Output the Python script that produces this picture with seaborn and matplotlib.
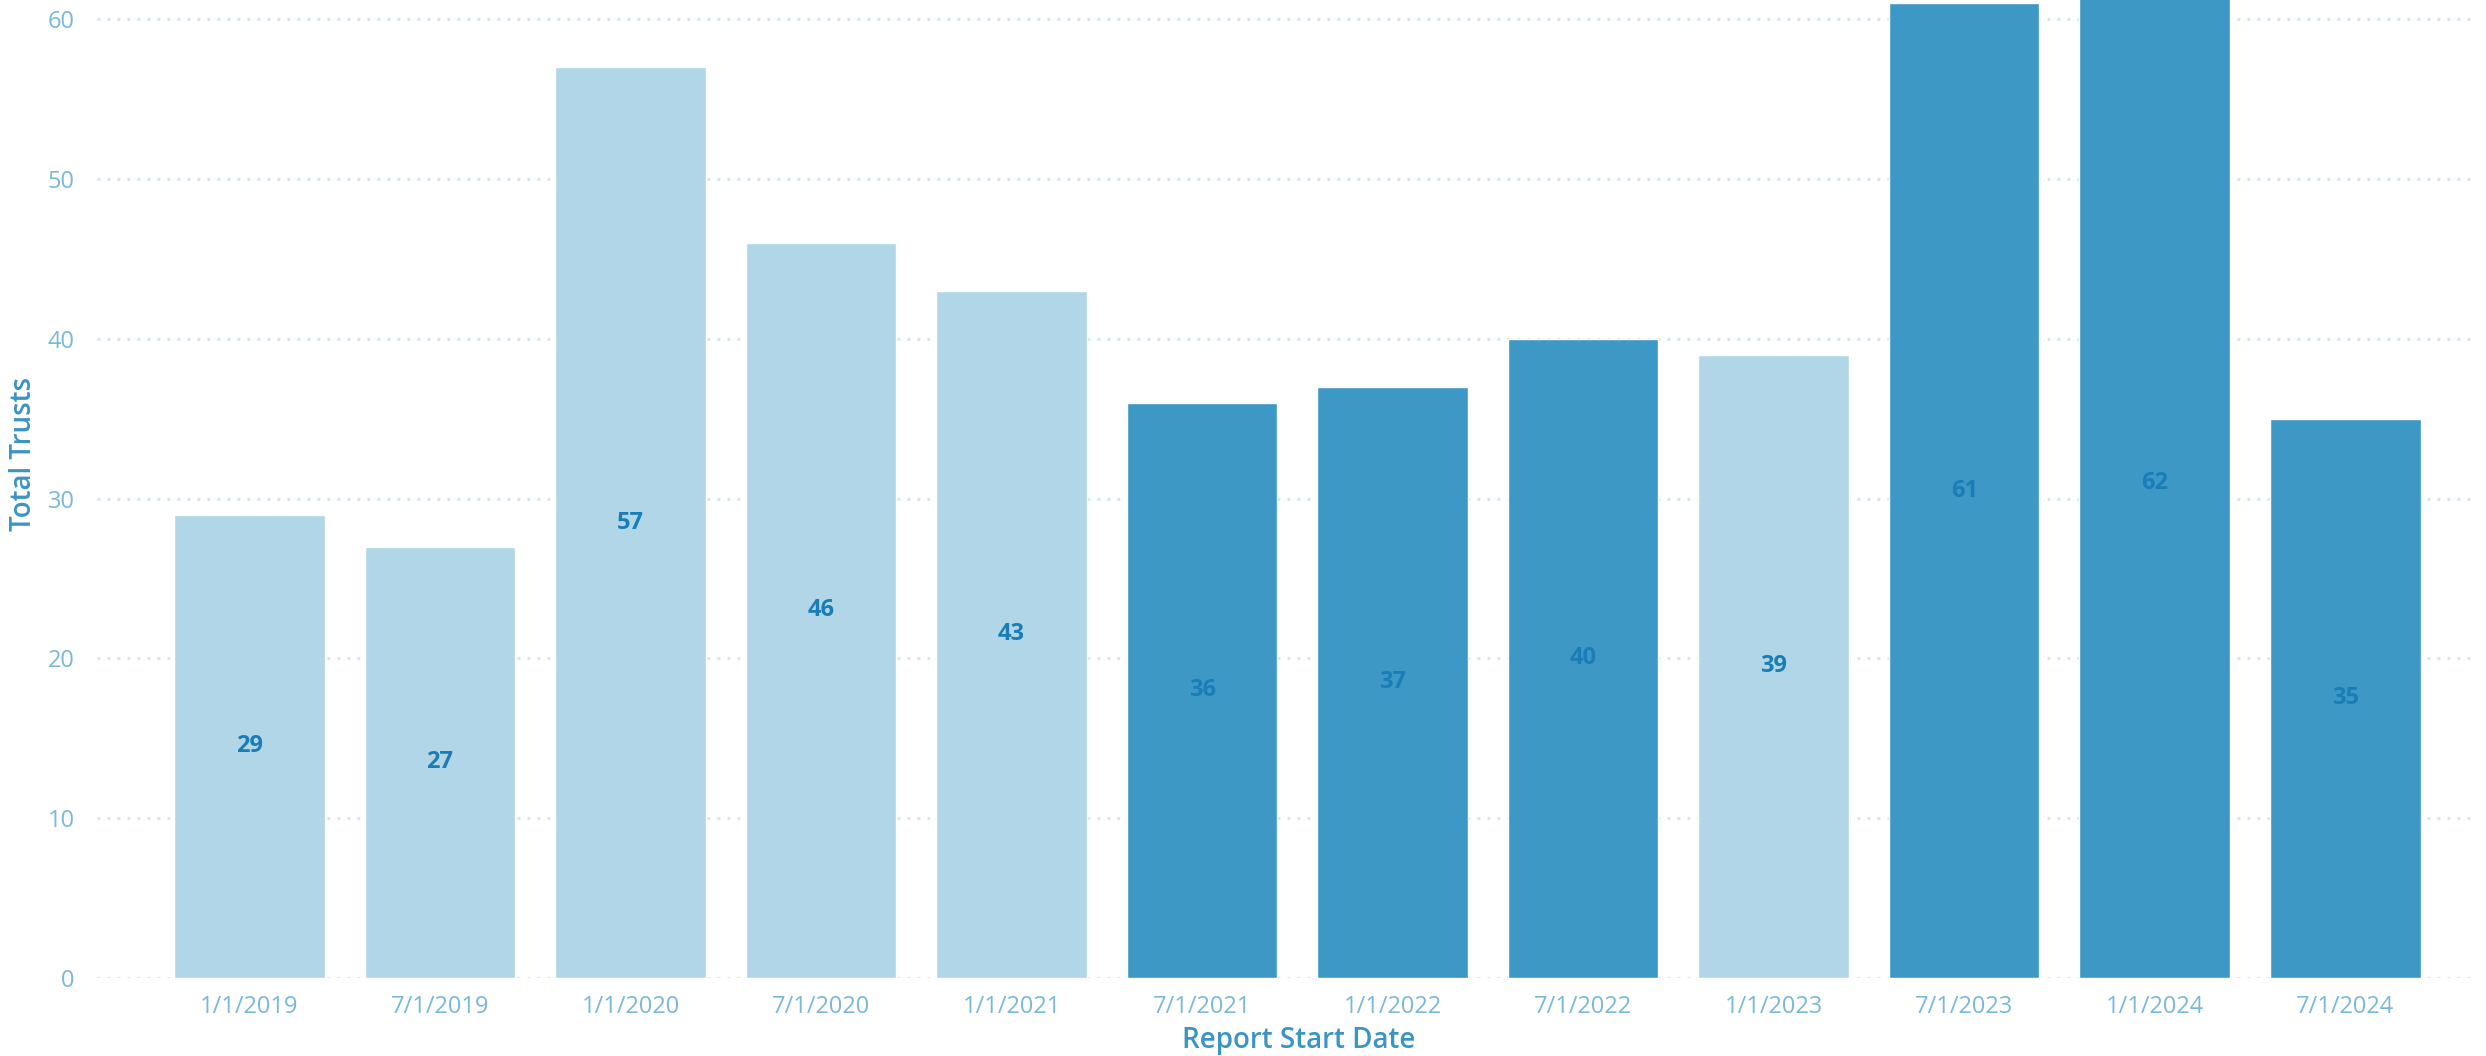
import matplotlib
matplotlib.use("Agg")
import matplotlib.pyplot as plt
import seaborn as sns
import pandas as pd

categories = ["1/1/2019", "7/1/2019", "1/1/2020", "7/1/2020", "1/1/2021", "7/1/2021",
              "1/1/2022", "7/1/2022", "1/1/2023", "7/1/2023", "1/1/2024", "7/1/2024"]
values = [29, 27, 57, 46, 43, 36, 37, 40, 39, 61, 62, 35]
highlight = [False, False, False, False, False, True, True, True, False, True, True, True]

LIGHT = "#B1D6E8"
DARK = "#3E98C6"
colors = [DARK if h else LIGHT for h in highlight]

sns.set_theme(style="white")
plt.rcParams['font.family'] = ['Open Sans', 'DejaVu Sans']

df = pd.DataFrame({"date": categories, "total": values})

fig = plt.figure(figsize=(24.86, 10.56), dpi=100)
ax = fig.add_axes([97 / 2486, 1 - 978 / 1056, (2471 - 97) / 2486, 978 / 1056])

sns.barplot(data=df, x="date", y="total", hue="date", palette=colors, legend=False,
            width=0.79, saturation=1, ax=ax, zorder=3)

for p, v in zip(ax.patches, values):
    ax.text(p.get_x() + p.get_width() / 2, v / 2, str(v), ha="center", va="center",
            fontsize=17, fontweight="bold", color="#1A7DB5", zorder=4)

ax.set_ylim(0, 61.2)
ax.set_xlim(-0.8, 11.66)
ax.set_yticks([0, 10, 20, 30, 40, 50, 60])
ax.grid(axis="y", linestyle=(0, (1, 2.6)), color="#CFE4EF", linewidth=2, zorder=0)
ax.grid(axis="x", visible=False)
for s in ax.spines.values():
    s.set_visible(False)

ax.tick_params(axis="both", length=0, labelsize=17, labelcolor="#7AB8DA")
ax.tick_params(axis="y", pad=16)
ax.tick_params(axis="x", pad=12)
ax.set_xlabel("Report Start Date", fontsize=20, color="#3A94C4", fontweight="semibold")
ax.set_ylabel("Total Trusts", fontsize=20, color="#3A94C4", fontweight="semibold")
ax.xaxis.set_label_coords(0.506, -0.049)
ax.yaxis.set_label_coords(-0.025, 0.536)

fig.savefig("out.png", dpi=100)
